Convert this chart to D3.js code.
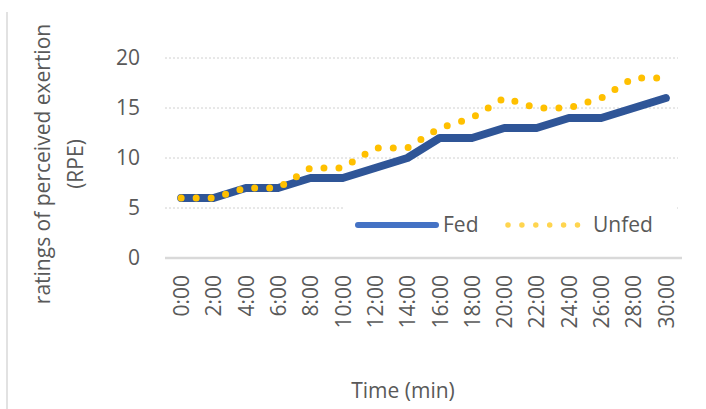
<!DOCTYPE html>
<html>
<head>
<meta charset="utf-8">
<script src="https://cdn.jsdelivr.net/npm/d3@7"></script>
<style>
  html, body { margin: 0; padding: 0; background: #ffffff; }
  svg { display: block; }
  text { font-family: "Open Sans", "Noto Sans", sans-serif; fill: #595959; }
</style>
</head>
<body>
<svg id="chart" width="706" height="409"></svg>
<script>
// Time points (every 2 minutes) and RPE ratings
const categories = ["0:00","2:00","4:00","6:00","8:00","10:00","12:00","14:00","16:00","18:00","20:00","22:00","24:00","26:00","28:00","30:00"];
const fedValues   = [6, 6, 7, 7, 8, 8, 9, 10, 12, 12, 13, 13, 14, 14, 15, 16];
const unfedValues = [6, 6, 7, 7, 9, 9, 11, 11, 13, 14, 16, 15, 15, 16, 18, 18];
const yTicks = [0, 5, 10, 15, 20];
const seriesNames = ["Fed", "Unfed"];

const svg = d3.select("#chart");
const fontSize = 21;

const plot = { left: 165, right: 682, top: 58, bottom: 258 };

const x = d3.scalePoint()
  .domain(categories)
  .range([plot.left, plot.right])
  .padding(0.5);

const y = d3.scaleLinear()
  .domain([0, 20])
  .range([plot.bottom, plot.top]);

// chart-area border remnant on the left
svg.append("line")
  .attr("x1", 7).attr("x2", 7)
  .attr("y1", 12).attr("y2", 409)
  .attr("stroke", "#d9d9d9").attr("stroke-width", 1.5);

// horizontal gridlines (dotted), solid baseline at zero
const grid = svg.append("g");
grid.selectAll("line.grid")
  .data(yTicks.filter(d => d > 0))
  .join("line")
  .attr("class", "grid")
  .attr("x1", plot.left).attr("x2", 678)
  .attr("y1", d => y(d)).attr("y2", d => y(d))
  .attr("stroke", "#d0d0d0")
  .attr("stroke-width", 1)
  .attr("stroke-dasharray", "2,2");

svg.append("line")
  .attr("x1", plot.left).attr("x2", plot.right)
  .attr("y1", y(0)).attr("y2", y(0))
  .attr("stroke", "#d9d9d9")
  .attr("stroke-width", 2.5);

// y axis labels
const yAxis = d3.axisLeft(y).tickValues(yTicks).tickSize(0).tickPadding(0);
const yG = svg.append("g")
  .attr("transform", `translate(140,0)`)
  .call(yAxis);
yG.select(".domain").remove();
yG.selectAll("text")
  .attr("x", 0)
  .style("font-family", "\"Open Sans\", sans-serif")
  .style("font-size", fontSize + "px")
  .attr("fill", "#595959");

// x axis labels, rotated
const xAxis = d3.axisBottom(x).tickSize(0).tickPadding(0);
const xG = svg.append("g")
  .attr("transform", `translate(0,${plot.bottom})`)
  .call(xAxis);
xG.select(".domain").remove();
xG.selectAll("text")
  .attr("transform", "rotate(-90)")
  .attr("x", -17)
  .attr("y", 0)
  .attr("dy", "0.35em")
  .attr("text-anchor", "end")
  .style("font-family", "\"Open Sans\", sans-serif")
  .style("font-size", fontSize + "px")
  .attr("fill", "#595959");

// axis titles
svg.append("text")
  .attr("x", 403).attr("y", 398)
  .attr("text-anchor", "middle")
  .style("font-size", fontSize + "px")
  .text("Time (min)");

const yTitle = svg.append("text")
  .attr("transform", "translate(43,164) rotate(-90)")
  .attr("text-anchor", "middle")
  .style("font-size", fontSize + "px");
yTitle.append("tspan").attr("x", 0).attr("dy", "0.35em").text("ratings of perceived exertion");
yTitle.append("tspan").attr("x", 0).attr("dy", "1.55em").text("(RPE)");

// legend background and entries
const legend = svg.append("g");
legend.append("rect")
  .attr("x", 343).attr("y", 203)
  .attr("width", 333).attr("height", 44)
  .attr("fill", "#ffffff");

// series lines
const line = d3.line()
  .x((d, i) => x(categories[i]))
  .y(d => y(d));

svg.append("path")
  .datum(fedValues)
  .attr("d", line)
  .attr("fill", "none")
  .attr("stroke", "#2f5597")
  .attr("stroke-width", 8)
  .attr("stroke-linejoin", "round")
  .attr("stroke-linecap", "round");

svg.append("path")
  .datum(unfedValues)
  .attr("d", line)
  .attr("fill", "none")
  .attr("stroke", "#ffc000")
  .attr("stroke-width", 7)
  .attr("stroke-linecap", "round")
  .attr("stroke-dasharray", "0 15");

legend.append("line")
  .attr("x1", 358).attr("x2", 436)
  .attr("y1", 225).attr("y2", 225)
  .attr("stroke", "#4472c4")
  .attr("stroke-width", 6)
  .attr("stroke-linecap", "round");
legend.append("text")
  .attr("x", 443).attr("y", 225)
  .attr("dy", "0.35em")
  .style("font-size", fontSize + "px")
  .text(seriesNames[0]);

legend.append("line")
  .attr("x1", 508).attr("x2", 578)
  .attr("y1", 225).attr("y2", 225)
  .attr("stroke", "#ffd54f")
  .attr("stroke-width", 5.5)
  .attr("stroke-linecap", "round")
  .attr("stroke-dasharray", "0 13.9");
legend.append("text")
  .attr("x", 593).attr("y", 225)
  .attr("dy", "0.35em")
  .style("font-size", fontSize + "px")
  .text(seriesNames[1]);
</script>
</body>
</html>
